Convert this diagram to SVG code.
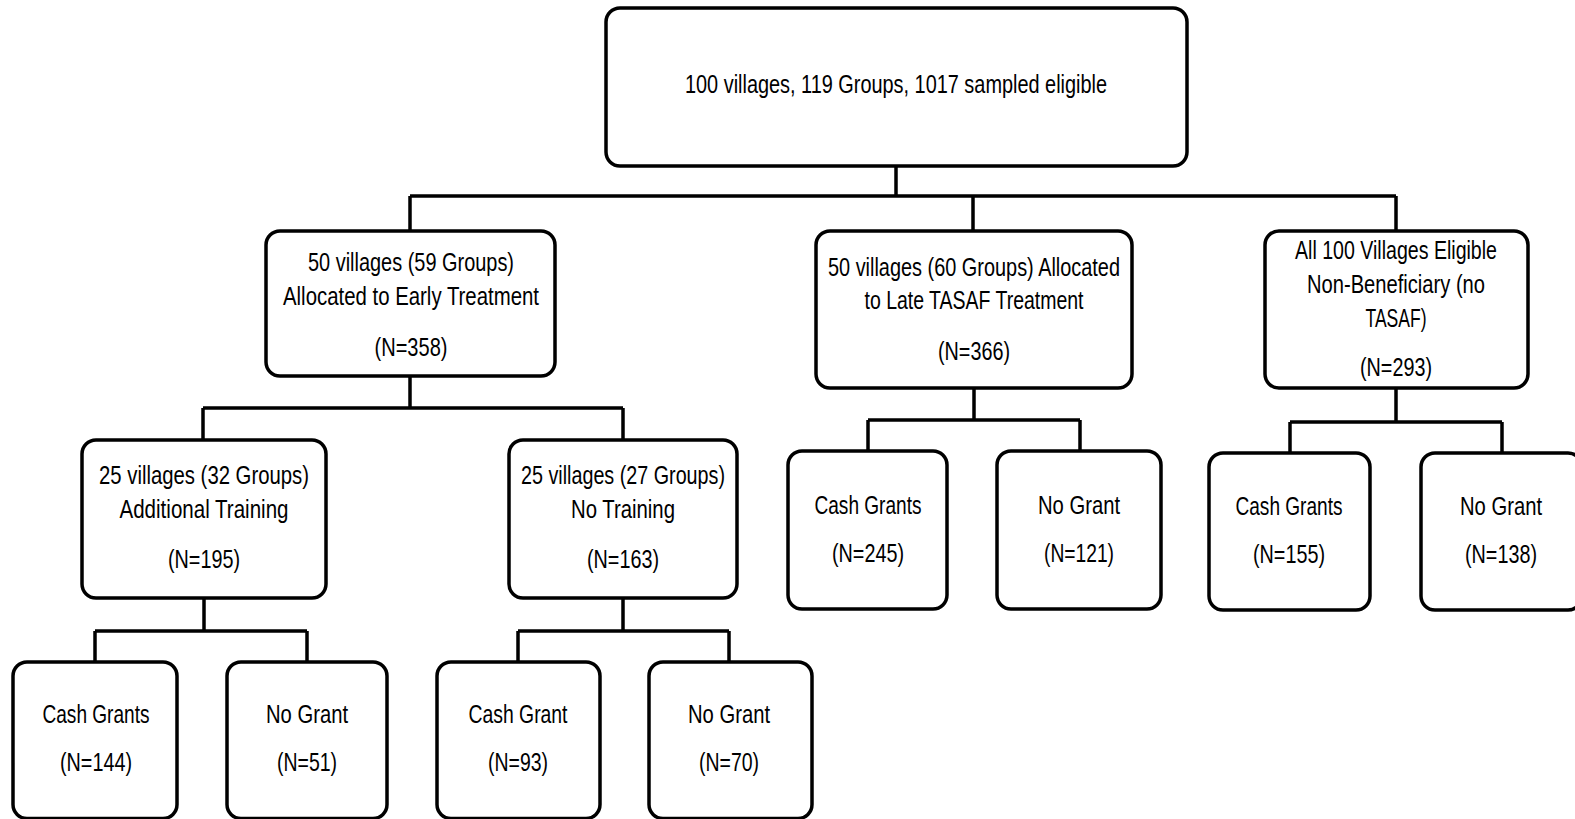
<svg xmlns="http://www.w3.org/2000/svg" width="1575" height="819" viewBox="0 0 1575 819">
<style>
.box{fill:#fff;stroke:#000;stroke-width:3.5}
.con{fill:none;stroke:#000;stroke-width:3.5}
text{font-family:"Liberation Sans",Arial,sans-serif;font-size:25px;fill:#000;text-anchor:middle}
</style>
<rect width="1575" height="819" fill="#fff"/>
<g id="connectors" class="con">
<path d="M896 166V196M410 196H1396M410 196V231M973 196V231M1396 196V231"/>
<path d="M410 376V408M203 408H623M203 408V440M623 408V440"/>
<path d="M974 388V420M868 420H1080M868 420V451M1080 420V451"/>
<path d="M1396 388V422M1290 422H1502M1290 422V453M1502 422V453"/>
<path d="M204 598V631M95 631H307M95 631V662M307 631V662"/>
<path d="M623 598V631M518 631H729M518 631V662M729 631V662"/>
</g>
<g id="root"><rect class="box" x="606" y="8" width="581" height="158" rx="14"/>
<text x="896" y="93" textLength="422" lengthAdjust="spacingAndGlyphs">100 villages, 119 Groups, 1017 sampled eligible</text></g>
<g id="early"><rect class="box" x="266" y="231" width="289" height="145" rx="14"/>
<text x="411" y="271" textLength="206" lengthAdjust="spacingAndGlyphs">50 villages (59 Groups)</text>
<text x="411" y="305" textLength="256" lengthAdjust="spacingAndGlyphs">Allocated to Early Treatment</text>
<text x="411" y="356" textLength="73" lengthAdjust="spacingAndGlyphs">(N=358)</text></g>
<g id="late"><rect class="box" x="816" y="231" width="316" height="157" rx="14"/>
<text x="974" y="276" textLength="292" lengthAdjust="spacingAndGlyphs">50 villages (60 Groups) Allocated</text>
<text x="974" y="309" textLength="219" lengthAdjust="spacingAndGlyphs">to Late TASAF Treatment</text>
<text x="974" y="360" textLength="72" lengthAdjust="spacingAndGlyphs">(N=366)</text></g>
<g id="nonben"><rect class="box" x="1265" y="231" width="263" height="157" rx="14"/>
<text x="1396" y="259" textLength="202" lengthAdjust="spacingAndGlyphs">All 100 Villages Eligible</text>
<text x="1396" y="293" textLength="178" lengthAdjust="spacingAndGlyphs">Non-Beneficiary (no</text>
<text x="1396" y="327" textLength="61" lengthAdjust="spacingAndGlyphs">TASAF)</text>
<text x="1396" y="376" textLength="72" lengthAdjust="spacingAndGlyphs">(N=293)</text></g>
<g id="addtrain"><rect class="box" x="82" y="440" width="244" height="158" rx="14"/>
<text x="204" y="484" textLength="210" lengthAdjust="spacingAndGlyphs">25 villages (32 Groups)</text>
<text x="204" y="518" textLength="169" lengthAdjust="spacingAndGlyphs">Additional Training</text>
<text x="204" y="568" textLength="72" lengthAdjust="spacingAndGlyphs">(N=195)</text></g>
<g id="notrain"><rect class="box" x="509" y="440" width="228" height="158" rx="14"/>
<text x="623" y="484" textLength="204" lengthAdjust="spacingAndGlyphs">25 villages (27 Groups)</text>
<text x="623" y="518" textLength="104" lengthAdjust="spacingAndGlyphs">No Training</text>
<text x="623" y="568" textLength="72" lengthAdjust="spacingAndGlyphs">(N=163)</text></g>
<g id="late-cash"><rect class="box" x="788" y="451" width="159" height="158" rx="14"/>
<text x="868" y="514" textLength="107" lengthAdjust="spacingAndGlyphs">Cash Grants</text>
<text x="868" y="562" textLength="72" lengthAdjust="spacingAndGlyphs">(N=245)</text></g>
<g id="late-nogrant"><rect class="box" x="997" y="451" width="164" height="158" rx="14"/>
<text x="1079" y="514" textLength="82" lengthAdjust="spacingAndGlyphs">No Grant</text>
<text x="1079" y="562" textLength="70" lengthAdjust="spacingAndGlyphs">(N=121)</text></g>
<g id="nb-cash"><rect class="box" x="1209" y="453" width="161" height="157" rx="14"/>
<text x="1289" y="515" textLength="107" lengthAdjust="spacingAndGlyphs">Cash Grants</text>
<text x="1289" y="563" textLength="72" lengthAdjust="spacingAndGlyphs">(N=155)</text></g>
<g id="nb-nogrant"><rect class="box" x="1421" y="453" width="161" height="157" rx="14"/>
<text x="1501" y="515" textLength="82" lengthAdjust="spacingAndGlyphs">No Grant</text>
<text x="1501" y="563" textLength="72" lengthAdjust="spacingAndGlyphs">(N=138)</text></g>
<g id="at-cash"><rect class="box" x="13" y="662" width="164" height="156.5" rx="14"/>
<text x="96" y="723" textLength="107" lengthAdjust="spacingAndGlyphs">Cash Grants</text>
<text x="96" y="771" textLength="72" lengthAdjust="spacingAndGlyphs">(N=144)</text></g>
<g id="at-nogrant"><rect class="box" x="227" y="662" width="160" height="156.5" rx="14"/>
<text x="307" y="723" textLength="82" lengthAdjust="spacingAndGlyphs">No Grant</text>
<text x="307" y="771" textLength="60" lengthAdjust="spacingAndGlyphs">(N=51)</text></g>
<g id="nt-cash"><rect class="box" x="437" y="662" width="163" height="156.5" rx="14"/>
<text x="518" y="723" textLength="99" lengthAdjust="spacingAndGlyphs">Cash Grant</text>
<text x="518" y="771" textLength="60" lengthAdjust="spacingAndGlyphs">(N=93)</text></g>
<g id="nt-nogrant"><rect class="box" x="649" y="662" width="163" height="156.5" rx="14"/>
<text x="729" y="723" textLength="82" lengthAdjust="spacingAndGlyphs">No Grant</text>
<text x="729" y="771" textLength="60" lengthAdjust="spacingAndGlyphs">(N=70)</text></g>
</svg>
